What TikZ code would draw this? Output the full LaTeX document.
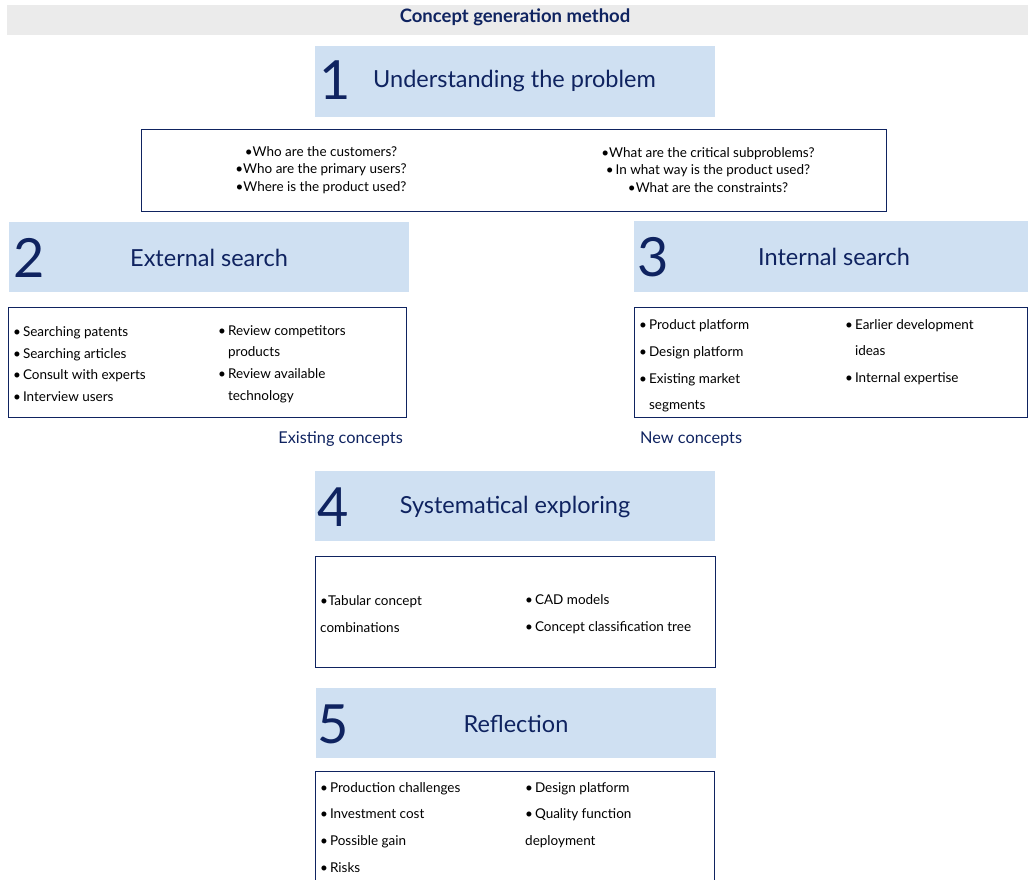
\documentclass[tikz,border=0pt]{standalone}
\usepackage{fontspec}
\setmainfont{Lato}
\definecolor{navy}{HTML}{0F2360}
\definecolor{hdrblue}{HTML}{CFE0F2}
\definecolor{barGray}{HTML}{EBEBEB}
\newcommand{\fs}[2]{\fontsize{#1}{#2}\selectfont}
\newcommand{\bl}{\textbullet\hspace{2pt}}

\begin{document}
\begin{tikzpicture}[x=1pt, y=-1pt,
  hdr/.style={fill=hdrblue, draw=none, anchor=north west, inner sep=0pt},
  content/.style={draw=navy, line width=1.1pt, fill=white, anchor=north west, inner sep=0pt},
  num/.style={text=navy, font=\fs{54}{54}, inner sep=0pt},
  htitle/.style={text=navy, font=\fs{23.5}{26}, inner sep=0pt},
  items/.style={font=\fs{13.5}{#1}, align=left, anchor=west, inner sep=0pt},
  concept/.style={text=navy, font=\fs{16.3}{18}, inner sep=0pt}]
  \clip (0,0) rectangle (1028,880);
  % title bar
  \fill[barGray] (7,5) rectangle (1028,35);
  \node[text=navy, font=\bfseries\fs{18.5}{20}, inner sep=0pt] (title) at (515,17) {Concept generation method};

  % 1
  \node[hdr, minimum width=400pt, minimum height=71pt] (h1) at (315,46) {};
  \node[num] (n1) at (335,80) {1};
  \node[htitle, anchor=west] (t1) at (373,81) {Understanding the problem};
  \node[content, minimum width=745pt, minimum height=82pt] (c1) at (141,129) {};
  \node[font=\fs{13.5}{17.5}, align=center, inner sep=0pt] (q1) at (321,170)
    {\textbullet Who are the customers?\\ \textbullet Who are the primary users?\\ \textbullet Where is the product used?};
  \node[font=\fs{13.5}{17.5}, align=center, inner sep=0pt] (q2) at (708,170)
    {\textbullet What are the critical subproblems?\\ \bl In what way is the product used?\\ \textbullet What are the constraints?};

  % 2
  \node[hdr, minimum width=400pt, minimum height=70pt] (h2) at (9,222) {};
  \node[num] (n2) at (29,258) {2};
  \node[htitle] (t2) at (209,258) {External search};
  \node[content, minimum width=398pt, minimum height=110pt] (c2) at (8,307) {};
  \node[items=21.7] (l2) at (13,364)
    {\bl Searching patents\\ \bl Searching articles\\ \bl Consult with experts\\ \bl Interview users};
  \node[items=21.7] (r2) at (218,364)
    {\bl Review competitors\\ \phantom{\bl}products\\ \bl Review available\\ \phantom{\bl}technology};
  \node[concept, anchor=east] (ex) at (403,439) {Existing concepts};

  % 3
  \node[hdr, minimum width=400pt, minimum height=71pt] (h3) at (634,221) {};
  \node[num] (n3) at (653,257) {3};
  \node[htitle] (t3) at (834,257) {Internal search};
  \node[content, minimum width=393pt, minimum height=110pt] (c3) at (634,307) {};
  \node[items=26.7] (l3) at (639,366)
    {\bl Product platform\\ \bl Design platform\\ \bl Existing market\\ \phantom{\bl}segments};
  \node[items=26.7, anchor=north west] (r3) at (845,319)
    {\bl Earlier development\\ \phantom{\bl}ideas\\ \bl Internal expertise};
  \node[concept, anchor=west] (nw) at (640,439) {New concepts};

  % 4
  \node[hdr, minimum width=400pt, minimum height=70pt] (h4) at (315,471) {};
  \node[num] (n4) at (333,507) {4};
  \node[htitle] (t4) at (515,507) {Systematical exploring};
  \node[content, minimum width=400pt, minimum height=111pt] (c4) at (315,556) {};
  \node[items=27] (l4) at (320,614)
    {\textbullet Tabular concept\\ combinations};
  \node[items=27] (r4) at (525,614)
    {\bl CAD models\\ \bl Concept classification tree};

  % 5
  \node[hdr, minimum width=400pt, minimum height=70pt] (h5) at (316,688) {};
  \node[num] (n5) at (333,724) {5};
  \node[htitle] (t5) at (516,724) {Reflection};
  \node[content, minimum width=399pt, minimum height=130pt] (c5) at (315,771) {};
  \node[items=26.7, anchor=north west] (l5) at (320,782)
    {\bl Production challenges\\ \bl Investment cost\\ \bl Possible gain\\ \bl Risks};
  \node[items=26.7, anchor=north west] (r5) at (525,782)
    {\bl Design platform\\ \bl Quality function\\ deployment};
\end{tikzpicture}
\end{document}
